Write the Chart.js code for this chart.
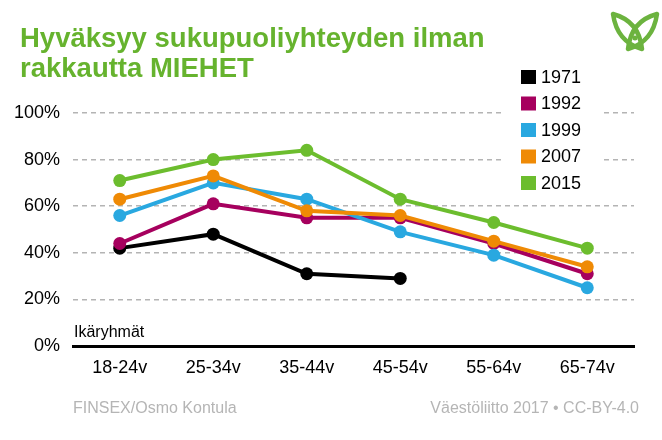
<!DOCTYPE html>
<html>
<head>
<meta charset="utf-8">
<script src="https://cdn.jsdelivr.net/npm/chart.js@4/dist/chart.umd.min.js"></script>
<style>
  body { margin: 0; background: #fff; }
  #wrap { position: relative; width: 662px; height: 440px; font-family: "Liberation Sans", Arial, sans-serif; }
  #chartBox { position: absolute; left: 0; top: 0; width: 662px; height: 440px; }
  .title { position: absolute; left: 20px; top: 23px; font-size: 27.5px; font-weight: bold; color: #66b32e; line-height: 30px; }
  .foot { position: absolute; top: 400px; font-size: 16px; line-height: 16px; color: #b5b5b5; }
  #logo { position: absolute; left: 608px; top: 8px; }
</style>
</head>
<body>
<div id="wrap">
  <div id="chartBox"><canvas id="myChart"></canvas></div>
  <div class="title">Hyväksyy sukupuoliyhteyden ilman<br>rakkautta MIEHET</div>
  <div class="foot" style="left:73px">FINSEX/Osmo Kontula</div>
  <div class="foot" style="right:23px">Väestöliitto 2017 • CC-BY-4.0</div>
  <svg id="logo" width="52" height="46" viewBox="0 0 52 46">
    <g fill="none" stroke="#6cb33f" stroke-width="4.5" stroke-linejoin="round">
      <path d="M5,6 Q9,34 34,41 Q31,13 5,6 Z"/>
      <path d="M49,6 Q45,34 20,41 Q23,13 49,6 Z"/>
    </g>
    <circle cx="27" cy="30" r="2.5" fill="#6cb33f"/>
  </svg>
</div>
<script>
// data
const CATEGORIES = ["18-24v", "25-34v", "35-44v", "45-54v", "55-64v", "65-74v"];
const YEARS = ["1971", "1992", "1999", "2007", "2015"];
const VALUES_1971 = [42, 48, 31, 29, null, null];
const VALUES_1992 = [44, 61, 55, 55, 44, 31];
const VALUES_1999 = [56, 70, 63, 49, 39, 25];
const VALUES_2007 = [63, 73, 58, 56, 45, 34];
const VALUES_2015 = [71, 80, 84, 63, 53, 42];
const Y_TICKS = [0, 20, 40, 60, 80, 100];

// colours
const COLORS = ["#000000", "#a6005e", "#29a8e0", "#ef8a05", "#6cbd2e"];
const FONT = "'Liberation Sans', Arial, sans-serif";

function makeDataset(i, values) {
  return {
    label: YEARS[i],
    data: values,
    borderColor: COLORS[i],
    backgroundColor: COLORS[i],
    pointBackgroundColor: COLORS[i],
    borderWidth: 4,
    pointRadius: 6.5,
    pointBorderWidth: 0,
    tension: 0,
    clip: false,
    order: 5 - i,
  };
}

// legend and axis caption drawn on top of the chart
const overlayPlugin = {
  id: 'overlay',
  afterDraw(chart) {
    const ctx = chart.ctx;
    ctx.save();
    ctx.fillStyle = '#fff';
    ctx.fillRect(502, 63, 101, 133);
    ctx.font = '18px ' + FONT;
    ctx.textBaseline = 'middle';
    ctx.textAlign = 'left';
    chart.data.datasets.forEach((ds, i) => {
      const y = 77 + i * 26.5;
      ctx.fillStyle = ds.borderColor;
      ctx.fillRect(521, y - 7, 15, 14);
      ctx.fillStyle = '#000';
      ctx.fillText(ds.label, 541, y + 1);
    });
    ctx.font = '16px ' + FONT;
    ctx.textBaseline = 'alphabetic';
    ctx.fillText('Ikäryhmät', 74, 337);
    ctx.restore();
  }
};

const ctx = document.getElementById('myChart').getContext('2d');
new Chart(ctx, {
  type: 'line',
  data: {
    labels: CATEGORIES,
    datasets: [
      makeDataset(0, VALUES_1971),
      makeDataset(1, VALUES_1992),
      makeDataset(2, VALUES_1999),
      makeDataset(3, VALUES_2007),
      makeDataset(4, VALUES_2015),
    ],
  },
  options: {
    responsive: true,
    maintainAspectRatio: false,
    animation: false,
    layout: { padding: { top: 113, right: 28, left: 0, bottom: 0 } },
    scales: {
      x: {
        offset: true,
        grid: { display: false, drawTicks: false },
        border: { display: true, color: '#000', width: 3 },
        ticks: { color: '#000', font: { family: FONT, size: 18 }, padding: 11, maxRotation: 0 },
        afterFit: (scale) => { scale.height = 94; },
      },
      y: {
        min: 0,
        max: 100,
        afterBuildTicks: (scale) => { scale.ticks = Y_TICKS.map(v => ({ value: v })); },
        grid: {
          drawTicks: false,
          color: (c) => c.tick && c.tick.value === 0 ? 'rgba(0,0,0,0)' : '#b4b4b4',
          lineWidth: 1.5,
        },
        border: { display: false, dash: [5, 4] },
        ticks: {
          color: '#000',
          font: { family: FONT, size: 18 },
          padding: 13,
          callback: (v) => v + '%',
        },
        afterFit: (scale) => { scale.width = 73; },
      },
    },
    plugins: {
      legend: { display: false },
      tooltip: { enabled: false },
    },
  },
  plugins: [overlayPlugin],
});
</script>
</body>
</html>
